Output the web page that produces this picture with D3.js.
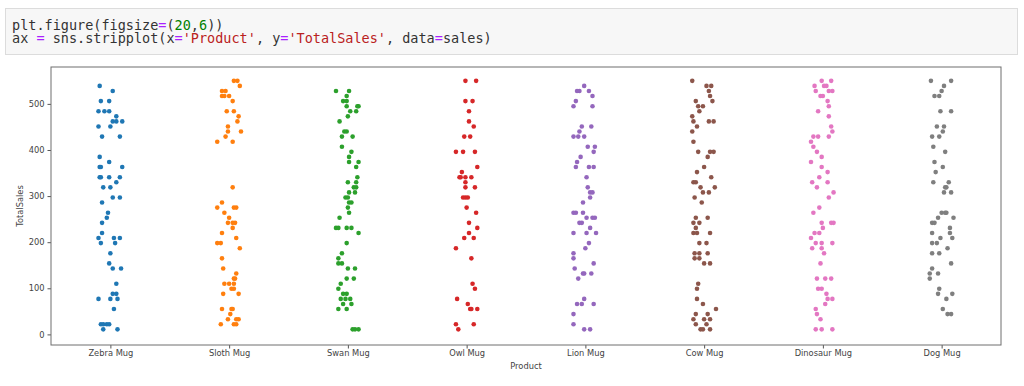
<!doctype html>
<html>
<head>
<meta charset="utf-8">
<script src="https://d3js.org/d3.v7.min.js"></script>
<style>
  body { margin: 0; background: #fff; }
  .tick text { font-family: "DejaVu Sans", sans-serif; font-size: 8.3px; fill: #444; }
  .tick line { stroke: #555; }
  .code { font-family: "DejaVu Sans Mono", monospace; font-size: 13.5px; fill: #333; }
</style>
</head>
<body>
<svg width="1024" height="386"></svg>
<script>

// categories and tick labels
var products = ["Zebra Mug", "Sloth Mug", "Swan Mug", "Owl Mug", "Lion Mug", "Cow Mug", "Dinosaur Mug", "Dog Mug"];
var yTicks = [0, 100, 200, 300, 400, 500];

// TotalSales per product, with the strip jitter (in category units)
var zebraSales  = [539, 528, 506, 506, 484, 484, 484, 473, 462, 462, 462, 451, 451, 429, 429, 385, 374, 363, 363, 363,
                   341, 341, 341, 341, 330, 319, 319, 297, 297, 286, 264, 253, 242, 220, 209, 209, 209, 198, 198, 176,
                   154, 143, 143, 110, 88, 88, 77, 77, 77, 55, 22, 22, 22, 22, 11, 11];
var zebraJitter = [-0.09, 0.02, -0.08, -0.01, -0.10, -0.05, -0.01, 0.05, 0.02, 0.05, 0.10, -0.10, 0, -0.07, 0.08, -0.09, -0.01, -0.09, -0.08, 0.10,
                   -0.09, -0.08, -0.01, 0.08, 0.05, -0.06, 0, 0.02, 0.08, -0.07, -0.02, -0.03, -0.07, -0.07, -0.10, 0.03, 0.08, -0.08, 0.04, 0,
                   -0.01, 0.02, 0.09, 0.05, 0.02, 0.05, -0.10, 0, 0.06, 0.03, -0.08, -0.06, -0.03, -0.01, -0.06, 0.06];

var slothSales  = [550, 550, 539, 528, 528, 517, 517, 517, 506, 484, 484, 473, 462, 451, 440, 440, 429, 418, 418, 319,
                   286, 275, 275, 275, 264, 253, 242, 242, 242, 231, 220, 209, 198, 198, 187, 165, 143, 132, 121, 121,
                   110, 110, 110, 99, 99, 88, 88, 55, 55, 55, 44, 33, 33, 33, 22, 22, 22];
var slothJitter = [0.04, 0.07, 0.09, -0.06, -0.03, -0.06, -0.04, 0, 0.03, -0.02, 0.04, 0.08, 0.07, -0.01, -0.01, 0.10, -0.03, -0.10, 0.03, 0.03,
                   -0.06, -0.10, 0.04, 0.06, -0.04, 0, -0.01, 0.03, 0.05, 0.03, -0.06, 0.06, -0.10, -0.07, 0.09, -0.06, -0.05, 0.06, 0.04, 0.05,
                   -0.04, 0, 0.04, 0.02, 0.04, -0.05, 0.08, -0.06, 0.02, 0.03, 0.01, -0.01, 0.06, 0.08, -0.07, 0.04, 0.06];

var swanSales  = [528, 528, 517, 506, 506, 495, 495, 495, 484, 484, 473, 462, 440, 440, 429, 429, 407, 396, 385, 374,
                  374, 363, 341, 330, 330, 319, 319, 308, 308, 297, 297, 286, 286, 275, 264, 253, 231, 231, 231, 231,
                  220, 198, 176, 165, 154, 154, 143, 143, 121, 121, 110, 99, 88, 88, 77, 77, 77, 66, 66, 55,
                  55, 11, 11, 11];
var swanJitter = [-0.10, 0.01, -0.01, -0.04, -0.01, -0.01, 0.08, 0.09, 0.02, 0.07, 0, -0.07, -0.03, -0.01, -0.05, 0.04, -0.05, 0.03, 0.01, 0.01,
                  0.09, 0.07, 0.08, 0, 0.07, 0.05, 0.07, 0.01, 0.06, -0.02, 0, 0.01, 0.03, 0, 0.01, -0.07, -0.10, -0.08, -0.01, 0.03,
                  0.09, -0.01, -0.05, -0.08, -0.08, -0.05, 0, 0.06, -0.01, 0.05, -0.06, -0.08, -0.04, -0.01, -0.06, -0.02, 0.02, -0.04, 0.03, -0.08,
                  -0.01, 0.04, 0.06, 0.09];

var owlSales  = [550, 550, 506, 506, 484, 462, 451, 429, 429, 396, 396, 396, 363, 352, 341, 341, 341, 341, 330, 319,
                 319, 297, 297, 297, 275, 264, 242, 231, 220, 209, 209, 187, 165, 110, 99, 77, 66, 55, 55, 55,
                 22, 22, 11];
var owlJitter = [-0.01, 0.08, -0.01, 0.05, 0.02, 0.02, 0.06, -0.02, 0.03, -0.09, -0.03, 0.07, 0.09, -0.04, -0.06, -0.05, -0.01, 0.04, -0.01, -0.01,
                 0.07, -0.03, -0.01, 0.01, 0, 0.08, 0.02, 0.09, 0.02, -0.02, 0.06, -0.09, 0.04, 0.05, 0.07, -0.08, 0.01, 0.03, 0.04, 0.09,
                 -0.09, 0.06, -0.07];

var lionSales  = [539, 528, 528, 528, 517, 506, 495, 495, 451, 451, 440, 429, 429, 429, 407, 407, 396, 385, 374, 363,
                  363, 363, 341, 319, 308, 308, 297, 286, 264, 264, 264, 253, 253, 253, 242, 242, 231, 220, 220, 220,
                  198, 187, 176, 165, 154, 143, 132, 132, 132, 121, 77, 66, 66, 66, 44, 22, 11, 11];
var lionJitter = [-0.01, -0.07, -0.05, 0.03, 0.06, -0.08, -0.10, 0.06, -0.03, 0.05, -0.05, -0.10, -0.06, -0.01, 0.02, 0.08, 0.07, -0.04, -0.07, -0.08,
                  0.03, 0.07, 0.01, 0.02, 0.04, 0.06, 0.04, -0.02, -0.10, -0.08, -0.02, 0.01, 0.06, 0.08, -0.05, -0.03, 0.04, -0.10, 0.01, 0.09,
                  0.03, 0, -0.10, -0.10, 0.07, -0.09, -0.02, -0.01, 0.05, -0.06, -0.01, -0.07, -0.03, 0.07, -0.10, -0.10, -0.01, 0.04];

var cowSales  = [550, 539, 539, 528, 517, 506, 506, 495, 495, 484, 473, 462, 462, 462, 451, 440, 418, 396, 396, 396,
                 385, 363, 352, 341, 330, 330, 319, 319, 308, 308, 297, 286, 253, 253, 242, 242, 231, 220, 220, 220,
                 198, 198, 176, 176, 176, 165, 165, 154, 154, 110, 99, 77, 66, 55, 44, 44, 33, 33, 33, 22,
                 22, 11, 11, 11];
var cowJitter = [-0.10, 0.02, 0.06, 0.04, 0.05, -0.07, 0.07, -0.05, -0.01, -0.04, -0.10, -0.09, 0.04, 0.08, -0.06, -0.10, -0.09, -0.05, 0.05, 0.08,
                 0.03, 0, -0.06, 0.06, -0.09, -0.07, -0.03, 0.09, -0.01, 0.04, -0.08, -0.02, -0.07, 0.03, -0.09, -0.04, -0.07, -0.09, -0.06, 0.05,
                 -0.04, 0.02, -0.08, -0.04, 0.03, -0.08, -0.04, 0, 0.05, -0.05, -0.06, -0.06, -0.01, 0.10, -0.07, 0.03, -0.09, 0, 0.05, -0.07,
                 0.02, -0.03, -0.01, 0.05];

var dinosaurSales  = [550, 550, 539, 539, 539, 528, 528, 528, 517, 517, 506, 495, 484, 473, 451, 440, 429, 429, 429, 418,
                      407, 396, 385, 374, 363, 352, 341, 330, 330, 319, 308, 297, 275, 264, 242, 242, 242, 231, 220, 220,
                      209, 198, 198, 198, 187, 187, 176, 154, 121, 121, 121, 99, 99, 88, 77, 77, 66, 55, 44, 33,
                      11, 11, 11];
var dinosaurJitter = [-0.01, 0.07, -0.07, 0.01, 0.03, -0.06, 0.05, 0.08, -0.02, 0, 0.04, 0.05, -0.04, 0.05, 0.07, 0.08, -0.08, -0.04, 0.05, -0.10,
                      -0.08, -0.05, -0.01, -0.10, -0.01, 0.04, -0.03, -0.09, 0.04, -0.05, 0.09, 0.05, -0.03, -0.08, -0.01, 0.07, 0.09, 0, -0.07, -0.03,
                      -0.10, -0.06, -0.01, 0.08, -0.09, -0.01, 0.01, -0.02, -0.05, 0.02, 0.07, -0.04, -0.01, 0.03, 0.04, 0.08, 0.02, -0.06, -0.05, -0.02,
                      -0.06, -0.01, 0.08];

var dogSales  = [550, 550, 539, 528, 517, 517, 484, 484, 451, 451, 440, 429, 429, 407, 396, 374, 363, 352, 330, 330,
                 319, 319, 308, 308, 264, 264, 264, 253, 253, 242, 242, 231, 220, 220, 209, 209, 198, 198, 187, 176,
                 176, 154, 143, 132, 132, 121, 99, 88, 88, 77, 55, 44, 44];
var dogJitter = [-0.09, 0.08, 0.02, 0, -0.06, -0.02, -0.01, 0.08, -0.04, 0.02, 0.01, -0.08, -0.02, -0.07, 0.03, -0.06, 0.01, -0.05, -0.07, 0.06,
                 0.03, 0.04, 0.02, 0.08, 0, 0.03, 0.04, -0.03, 0.10, -0.08, -0.06, 0.07, -0.08, 0.07, -0.01, 0.09, -0.08, -0.04, 0.05, -0.08,
                 -0.02, 0.08, -0.08, -0.10, -0.03, -0.10, -0.02, -0.03, 0.09, 0.04, 0.01, 0.05, 0.08];

var salesByProduct  = [zebraSales, slothSales, swanSales, owlSales, lionSales, cowSales, dinosaurSales, dogSales];
var jitterByProduct = [zebraJitter, slothJitter, swanJitter, owlJitter, lionJitter, cowJitter, dinosaurJitter, dogJitter];
var colors = ["#1f77b4", "#ff7f0e", "#2ca02c", "#d62728", "#9467bd", "#8c564b", "#e377c2", "#7f7f7f"];

var points = [];
salesByProduct.forEach(function(vals, i) {
    vals.forEach(function(v, k) {
        points.push({ cat: i, jitter: jitterByProduct[i][k], sales: v });
    });
});

var svg = d3.select("svg");

// notebook code cell
svg.append("rect")
   .attr("x", 5.5).attr("y", 8.5)
   .attr("width", 1012).attr("height", 46)
   .attr("fill", "#f7f7f7")
   .attr("stroke", "#dcdcdc");

var codeLines = [
    [["plt.figure(figsize", "#333"], ["=", "#aa22ff"], ["(", "#333"], ["20", "#008000"], [",", "#333"], ["6", "#008000"], ["))", "#333"]],
    [["ax ", "#333"], ["=", "#aa22ff"], [" sns.stripplot(x", "#333"], ["=", "#aa22ff"], ["'Product'", "#ba2121"], [", y", "#333"],
     ["=", "#aa22ff"], ["'TotalSales'", "#ba2121"], [", data", "#333"], ["=", "#aa22ff"], ["sales)", "#333"]]
];
codeLines.forEach(function(parts, i) {
    var t = svg.append("text")
       .attr("class", "code")
       .attr("x", 12)
       .attr("y", 30 + i * 12.5)
       .attr("xml:space", "preserve");
    parts.forEach(function(p) {
        t.append("tspan").style("fill", p[1]).text(p[0]);
    });
});

// plot area
var plotLeft = 51, plotRight = 1001, plotTop = 67, plotBottom = 345;

var x = d3.scaleLinear().domain([-0.5, products.length - 0.5]).range([plotLeft, plotRight]);
var y = d3.scaleLinear().domain([-23, 580]).range([plotBottom, plotTop]);

var g = svg.append("g");

g.append("g")
 .attr("transform", "translate(0," + plotBottom + ")")
 .call(d3.axisBottom(x).tickValues(d3.range(products.length))
        .tickFormat(function(d) { return products[d]; })
        .tickSize(3.5).tickPadding(2))
 .call(function(a) { a.select(".domain").remove(); });

g.append("g")
 .attr("transform", "translate(" + plotLeft + ",0)")
 .call(d3.axisLeft(y).tickValues(yTicks).tickSize(3.5).tickPadding(3))
 .call(function(a) { a.select(".domain").remove(); });

g.append("rect")
 .attr("x", plotLeft).attr("y", plotTop)
 .attr("width", plotRight - plotLeft).attr("height", plotBottom - plotTop)
 .attr("fill", "none")
 .attr("stroke", "#6e6e6e")
 .attr("stroke-width", 1);

g.selectAll(".dot")
 .data(points)
 .enter().append("circle")
 .attr("class", "dot")
 .attr("cx", function(d) { return x(d.cat + d.jitter); })
 .attr("cy", function(d) { return y(d.sales); })
 .attr("r", 2.3)
 .attr("fill", function(d) { return colors[d.cat]; });

svg.append("text")
   .attr("x", (plotLeft + plotRight) / 2)
   .attr("y", 369)
   .attr("text-anchor", "middle")
   .attr("font-family", "DejaVu Sans, sans-serif")
   .attr("font-size", "8.3px")
   .attr("fill", "#444")
   .text("Product");

svg.append("text")
   .attr("transform", "translate(23," + (plotTop + plotBottom) / 2 + ") rotate(-90)")
   .attr("text-anchor", "middle")
   .attr("font-family", "DejaVu Sans, sans-serif")
   .attr("font-size", "8.3px")
   .attr("fill", "#444")
   .text("TotalSales");

</script>
</body>
</html>
